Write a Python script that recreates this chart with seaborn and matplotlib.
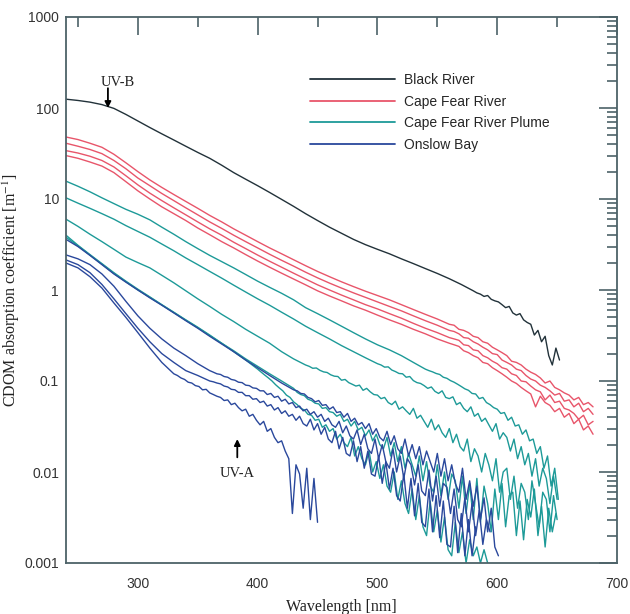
import numpy as np
import pandas as pd
import matplotlib
matplotlib.use("Agg")
import matplotlib.pyplot as plt
from matplotlib.ticker import FixedLocator, FixedFormatter, LogLocator, NullFormatter, MultipleLocator
from matplotlib.lines import Line2D
import seaborn as sns

# ---------------- data ----------------
# smooth parts are sampled every 10 nm from 240 nm; noisy tails follow with a finer step
black_smooth = [125, 121, 116, 109, 99, 85, 72, 61, 52, 44.5, 38, 32.5, 28, 23.5, 19.5, 16.5, 14, 11.8, 9.9, 8.3,
                6.9, 5.8, 4.9, 4.2, 3.6, 3.15, 2.8, 2.5, 2.2, 1.95, 1.72, 1.52, 1.33, 1.15, 0.98]
black_noisy = [0.93, 0.90, 0.85, 0.87, 0.79, 0.76, 0.74, 0.69, 0.64, 0.66, 0.56, 0.53, 0.55, 0.47, 0.44, 0.42,
               0.32, 0.36, 0.27, 0.31, 0.19, 0.15, 0.23, 0.17]

red1_smooth = [48, 45, 41, 37, 31, 25, 20, 16.2, 13.4, 11.2, 9.4, 7.9, 6.6, 5.6, 4.7, 4.0, 3.4, 2.9, 2.5, 2.15,
               1.85, 1.6, 1.4, 1.23, 1.09, 0.97, 0.87, 0.78, 0.69, 0.61, 0.54, 0.48, 0.42]
red1_noisy = [0.41, 0.37, 0.36, 0.34, 0.31, 0.30, 0.27, 0.26, 0.235, 0.22, 0.205, 0.19, 0.165, 0.16, 0.15, 0.135,
              0.125, 0.118, 0.108, 0.095, 0.1, 0.085, 0.08, 0.074, 0.07, 0.062, 0.066, 0.055, 0.058, 0.052]
red2_smooth = [41, 38, 35, 31.5, 26.5, 21.5, 17, 14, 11.5, 9.6, 8.0, 6.7, 5.6, 4.75, 4.0, 3.4, 2.9, 2.47, 2.12,
               1.83, 1.57, 1.36, 1.19, 1.05, 0.93, 0.83, 0.74, 0.66, 0.59, 0.52, 0.46, 0.41, 0.36]
red2_noisy = [0.35, 0.33, 0.30, 0.295, 0.27, 0.255, 0.235, 0.22, 0.2, 0.195, 0.17, 0.16, 0.15, 0.135, 0.13, 0.115,
              0.105, 0.1, 0.09, 0.085, 0.078, 0.07, 0.073, 0.06, 0.062, 0.052, 0.057, 0.046, 0.05, 0.043]
red3_smooth = [34, 32, 29.5, 26.5, 22.5, 18, 14.3, 11.6, 9.6, 8.0, 6.7, 5.6, 4.7, 4.0, 3.35, 2.85, 2.42, 2.07,
               1.78, 1.53, 1.32, 1.14, 1.0, 0.88, 0.78, 0.69, 0.62, 0.55, 0.49, 0.43, 0.38, 0.34, 0.3]
red3_noisy = [0.29, 0.28, 0.25, 0.245, 0.22, 0.215, 0.19, 0.18, 0.165, 0.155, 0.14, 0.135, 0.12, 0.115, 0.1, 0.098,
              0.088, 0.08, 0.076, 0.062, 0.07, 0.058, 0.06, 0.05, 0.048, 0.044, 0.038, 0.042, 0.033, 0.036]
red4_smooth = [30, 28, 25.5, 23, 19.5, 15.5, 12.3, 10, 8.2, 6.9, 5.8, 4.8, 4.05, 3.4, 2.9, 2.45, 2.08, 1.78,
               1.53, 1.32, 1.14, 0.98, 0.86, 0.76, 0.67, 0.6, 0.53, 0.47, 0.42, 0.37, 0.33, 0.29, 0.26]
red4_noisy = [0.25, 0.24, 0.215, 0.205, 0.19, 0.18, 0.16, 0.155, 0.14, 0.13, 0.12, 0.11, 0.1, 0.094, 0.085, 0.078,
              0.072, 0.052, 0.068, 0.058, 0.054, 0.046, 0.05, 0.04, 0.044, 0.034, 0.038, 0.029, 0.032, 0.026]

teal1_smooth = [15.7, 13.8, 12.0, 10.3, 8.9, 7.7, 6.8, 5.9, 4.9, 4.1, 3.4, 2.85, 2.4, 2.05, 1.75, 1.48, 1.25,
                1.07, 0.92, 0.78, 0.64, 0.55, 0.47, 0.40, 0.34, 0.29, 0.25, 0.22, 0.19, 0.16, 0.135]
teal1_noisy = [0.13, 0.126, 0.121, 0.118, 0.11, 0.107, 0.101, 0.097, 0.092, 0.087, 0.082, 0.079, 0.073, 0.072,
               0.064, 0.066, 0.058, 0.055, 0.051, 0.049, 0.044, 0.045, 0.037, 0.04, 0.032, 0.033, 0.026, 0.029,
               0.022, 0.023, 0.016, 0.019, 0.011, 0.015, 0.007, 0.011, 0.005]
teal2_smooth = [10.3, 9.0, 7.9, 6.9, 6.0, 5.1, 4.4, 3.8, 3.2, 2.7, 2.25, 1.9, 1.6, 1.35, 1.13, 0.95, 0.8, 0.68,
                0.57, 0.48, 0.40, 0.34, 0.29, 0.245, 0.21, 0.18, 0.155]
teal2_noisy = [0.15, 0.142, 0.143, 0.132, 0.127, 0.121, 0.12, 0.11, 0.112, 0.101,
               0.096, 0.094, 0.089, 0.083, 0.086, 0.077, 0.073, 0.078, 0.066, 0.064,
               0.067, 0.055, 0.058, 0.05, 0.046, 0.052, 0.041, 0.044, 0.036, 0.039,
               0.033, 0.028, 0.034, 0.023, 0.027, 0.024, 0.017, 0.023, 0.014, 0.019,
               0.012, 0.016, 0.009, 0.014, 0.007, 0.011, 0.0085, 0.0045, 0.009, 0.005]
teal3_smooth = [6.0, 5.0, 4.1, 3.4, 2.8, 2.3, 2.0, 1.75, 1.45, 1.2, 0.98, 0.8, 0.66, 0.54, 0.45, 0.37, 0.31,
                0.26, 0.21, 0.175, 0.15]
teal3_noisy = [0.145, 0.138, 0.139, 0.131, 0.126, 0.124, 0.117, 0.113, 0.112, 0.102,
               0.104, 0.096, 0.092, 0.088, 0.09, 0.079, 0.083, 0.076, 0.071, 0.07,
               0.064, 0.066, 0.058, 0.055, 0.06, 0.049, 0.052, 0.047, 0.043, 0.05,
               0.039, 0.042, 0.036, 0.031, 0.038, 0.029, 0.033, 0.027, 0.024, 0.03,
               0.021, 0.026, 0.019, 0.017, 0.023, 0.013, 0.018, 0.015, 0.01, 0.016,
               0.012, 0.008, 0.014, 0.006, 0.01, 0.011, 0.005, 0.009, 0.004, 0.0075,
               0.006, 0.003, 0.008, 0.0045, 0.0025, 0.006, 0.005, 0.0022, 0.0055, 0.003]
teal4_smooth = [4.0, 3.1, 2.45, 1.95, 1.55, 1.25, 1.02, 0.84, 0.69, 0.57, 0.47, 0.39, 0.32, 0.26, 0.21, 0.17, 0.135]
teal4_noisy = [0.125, 0.116, 0.108, 0.1, 0.091, 0.084, 0.078, 0.07, 0.066, 0.059,
               0.055, 0.05, 0.048, 0.043, 0.042, 0.037, 0.038, 0.031, 0.033, 0.028,
               0.03, 0.023, 0.026, 0.021, 0.019, 0.024, 0.015, 0.019, 0.014, 0.012,
               0.017, 0.01, 0.013, 0.0085, 0.012, 0.007, 0.006, 0.01, 0.005, 0.008,
               0.0045, 0.0035, 0.0065, 0.003, 0.0055, 0.0025, 0.002, 0.0048, 0.0022, 0.0038,
               0.0017, 0.0032, 0.0014, 0.0012, 0.0028, 0.0013, 0.0022, 0.001, 0.0018, 0.0012,
               0.0015, 0.001, 0.0014, 0.001]
teal5_smooth = [3.8, 3.05, 2.42, 1.92, 1.52, 1.23, 1.0, 0.83, 0.685, 0.565, 0.465, 0.385, 0.315, 0.26, 0.215,
                0.175, 0.145, 0.12, 0.1, 0.083]
teal5_noisy = [0.075, 0.071, 0.069, 0.063, 0.061, 0.057, 0.056, 0.05, 0.051, 0.046,
               0.045, 0.041, 0.043, 0.036, 0.038, 0.032, 0.036, 0.029, 0.031, 0.025,
               0.029, 0.022, 0.026, 0.02, 0.018, 0.024, 0.015, 0.021, 0.013, 0.019,
               0.011, 0.016, 0.012, 0.009, 0.015, 0.008, 0.013, 0.007, 0.006, 0.012,
               0.0055, 0.01, 0.005, 0.0095, 0.008, 0.004, 0.009, 0.0035, 0.0075, 0.003,
               0.0085, 0.0028, 0.007, 0.0045, 0.0022, 0.0065, 0.003, 0.0075, 0.0025, 0.0055,
               0.006, 0.002, 0.0048, 0.0018, 0.005, 0.0032, 0.0065, 0.002, 0.0042, 0.0015,
               0.004, 0.0022, 0.0035]

blue1_smooth = [3.6, 3.0, 2.4, 1.9, 1.5, 1.22, 1.0, 0.82, 0.68, 0.56, 0.46, 0.38, 0.31, 0.255, 0.21, 0.17, 0.14,
                0.115, 0.095, 0.08]
blue1_noisy = [0.078, 0.073, 0.072, 0.066, 0.064, 0.059, 0.061, 0.054, 0.055, 0.049,
               0.052, 0.045, 0.046, 0.04, 0.044, 0.036, 0.039, 0.033, 0.035, 0.03,
               0.034, 0.026, 0.03, 0.024, 0.022, 0.028, 0.02, 0.025, 0.018, 0.016,
               0.023, 0.015, 0.02, 0.014, 0.019, 0.012, 0.017, 0.013, 0.01, 0.016,
               0.009, 0.014, 0.008, 0.012, 0.0075, 0.006, 0.011, 0.005, 0.008, 0.0042,
               0.007, 0.003, 0.0052, 0.0022, 0.004, 0.0015, 0.0012]
blue2_smooth = [2.43, 2.2, 1.9, 1.5, 1.1, 0.75, 0.52, 0.38, 0.29, 0.23, 0.19, 0.155, 0.13]
blue2_noisy = [0.125, 0.12, 0.118, 0.112, 0.11, 0.104, 0.102, 0.097, 0.096, 0.09,
               0.089, 0.084, 0.083, 0.078, 0.078, 0.071, 0.073, 0.066, 0.068, 0.06,
               0.063, 0.056, 0.058, 0.051, 0.053, 0.047, 0.049, 0.043, 0.046, 0.04,
               0.043, 0.036, 0.039, 0.033, 0.031, 0.036, 0.027, 0.032, 0.025, 0.023,
               0.029, 0.02, 0.026, 0.018, 0.016, 0.023, 0.014, 0.02, 0.013, 0.011,
               0.018, 0.01, 0.015, 0.0085, 0.014, 0.012, 0.0072, 0.012, 0.0062, 0.0055,
               0.0105, 0.0048, 0.009, 0.0042, 0.0075, 0.0068, 0.0035, 0.0065, 0.003, 0.0025,
               0.0052, 0.0022, 0.0045, 0.002, 0.0038, 0.0016, 0.003, 0.0022]
blue3_smooth = [2.14, 1.9, 1.55, 1.15, 0.8, 0.55, 0.38, 0.27, 0.2, 0.16, 0.13, 0.115, 0.1]
blue3_noisy = [0.098, 0.095, 0.093, 0.088, 0.086, 0.081, 0.08, 0.075, 0.075, 0.069,
               0.069, 0.063, 0.064, 0.058, 0.06, 0.053, 0.055, 0.048, 0.051, 0.044,
               0.047, 0.041, 0.043, 0.037, 0.041, 0.034, 0.032, 0.038, 0.029, 0.034,
               0.026, 0.031, 0.023, 0.021, 0.028, 0.018, 0.024, 0.016, 0.015, 0.022,
               0.013, 0.019, 0.011, 0.017, 0.0095, 0.009, 0.015, 0.0075, 0.013, 0.0065,
               0.011, 0.0055, 0.0048, 0.0095, 0.004, 0.0085, 0.0033, 0.0075, 0.0028, 0.0025,
               0.0065, 0.0022, 0.0055, 0.0019, 0.0048, 0.0016, 0.0015, 0.0042, 0.0013, 0.0035,
               0.0012, 0.003, 0.0012, 0.0025]
blue4_smooth = [1.98, 1.75, 1.4, 1.05, 0.72, 0.5, 0.34, 0.23, 0.16, 0.12]
blue4_noisy = [0.115, 0.108, 0.104, 0.097, 0.095, 0.089, 0.087, 0.08, 0.081, 0.074,
               0.071, 0.068, 0.066, 0.061, 0.062, 0.055, 0.057, 0.051, 0.047, 0.049,
               0.041, 0.043, 0.037, 0.033, 0.036, 0.028, 0.03, 0.024, 0.021, 0.022,
               0.017, 0.014, 0.0035, 0.012, 0.0095, 0.004, 0.011, 0.003, 0.0085, 0.0028]

site_names = ["Black River", "Cape Fear River", "Cape Fear River Plume", "Onslow Bay"]
site_colors = ["#22323a", "#e8556a", "#1d9a98", "#2a489c"]

x_ticks = [300, 400, 500, 600, 700]
y_ticks = [0.001, 0.01, 0.1, 1, 10, 100, 1000]
y_tick_labels = ["0.001", "0.01", "0.1", "1", "10", "100", "1000"]

# (site, smooth values, noisy values, noisy step in nm)
spectra = [
    ("Black River", black_smooth, black_noisy, 3),
    ("Cape Fear River", red1_smooth, red1_noisy, 4),
    ("Cape Fear River", red2_smooth, red2_noisy, 4),
    ("Cape Fear River", red3_smooth, red3_noisy, 4),
    ("Cape Fear River", red4_smooth, red4_noisy, 4),
    ("Cape Fear River Plume", teal1_smooth, teal1_noisy, 3),
    ("Cape Fear River Plume", teal2_smooth, teal2_noisy, 3),
    ("Cape Fear River Plume", teal3_smooth, teal3_noisy, 3),
    ("Cape Fear River Plume", teal4_smooth, teal4_noisy, 3),
    ("Cape Fear River Plume", teal5_smooth, teal5_noisy, 3),
    ("Onslow Bay", blue1_smooth, blue1_noisy, 3),
    ("Onslow Bay", blue2_smooth, blue2_noisy, 3),
    ("Onslow Bay", blue3_smooth, blue3_noisy, 3),
    ("Onslow Bay", blue4_smooth, blue4_noisy, 3),
]

rows = []
for k, (site, smooth, noisy, step) in enumerate(spectra):
    w1 = 240 + 10 * np.arange(len(smooth))
    w2 = w1[-1] + step + step * np.arange(len(noisy))
    for w, v in zip(np.concatenate([w1, w2]), list(smooth) + list(noisy)):
        rows.append((site, k, w, v))
df = pd.DataFrame(rows, columns=["site", "sample", "wavelength", "a"])

# ---------------- figure ----------------
sns.set_style("white")
plt.rcParams["font.family"] = ["Liberation Sans", "DejaVu Sans"]
plt.rcParams["mathtext.fontset"] = "stix"

fig = plt.figure(figsize=(6.30, 6.14), dpi=100)
ax = fig.add_axes([66 / 630, 1 - 563 / 614, (617 - 66) / 630, (563 - 17) / 614])

sns.lineplot(data=df, x="wavelength", y="a", hue="site", units="sample", estimator=None,
             palette=dict(zip(site_names, site_colors)), hue_order=site_names,
             linewidth=1.0, legend=False, sort=False, ax=ax)

ax.set_yscale("log")
ax.set_xlim(240, 700)
ax.set_ylim(0.001, 1000)

frame_col = "#4d6268"
for s in ax.spines.values():
    s.set_color(frame_col)
    s.set_linewidth(1.3)

ax.xaxis.set_major_locator(FixedLocator(x_ticks))
ax.xaxis.set_minor_locator(MultipleLocator(50))
ax.yaxis.set_major_locator(FixedLocator(y_ticks))
ax.yaxis.set_major_formatter(FixedFormatter(y_tick_labels))
ax.yaxis.set_minor_locator(LogLocator(base=10, subs=np.arange(2, 10), numticks=20))
ax.yaxis.set_minor_formatter(NullFormatter())

ax.tick_params(which="both", direction="in", top=True, right=True, color=frame_col, width=1.2,
               labelcolor="#333333", labelsize=10)
ax.tick_params(which="major", length=13)
ax.tick_params(which="minor", length=7)
ax.tick_params(axis="x", which="major", pad=10)
ax.tick_params(axis="y", which="major", pad=5)

ax.set_xlabel("Wavelength [nm]", family="Liberation Serif", fontsize=11.5, color="#222222", labelpad=6)
ax.set_ylabel("CDOM absorption coefficient [m$^{-1}$]", family="Liberation Serif", fontsize=11.5,
              color="#222222")
ax.yaxis.set_label_coords((22 - 66) / 551, 0.5)

# annotations
ax.annotate("", xy=(275, 100), xytext=(275, 165),
            arrowprops=dict(arrowstyle="-|>", color="black", lw=1.3, mutation_scale=9, shrinkA=0, shrinkB=0))
ax.text(283, 190, "UV-B", family="Liberation Serif", fontsize=10.5, ha="center", va="center", color="#222222")
ax.annotate("", xy=(383, 0.023), xytext=(383, 0.0145),
            arrowprops=dict(arrowstyle="-|>", color="black", lw=1.3, mutation_scale=9, shrinkA=0, shrinkB=0))
ax.text(383, 0.0097, "UV-A", family="Liberation Serif", fontsize=10.5, ha="center", va="center", color="#222222")

handles = [Line2D([], [], color=c, lw=1.3) for c in site_colors]
ax.legend(handles, site_names, loc="upper left", bbox_to_anchor=((310 - 66) / 551, 1 - (73 - 17) / 546),
          frameon=False, fontsize=10, handlelength=6.1, handletextpad=0.7, labelspacing=0.55,
          borderpad=0, borderaxespad=0)

fig.savefig("out.png", dpi=100)
